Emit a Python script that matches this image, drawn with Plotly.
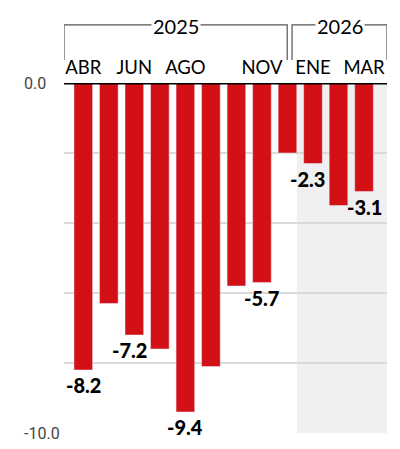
import plotly.graph_objects as go

months = ["ABR", "MAY", "JUN", "JUL", "AGO", "SEP", "OCT", "NOV", "DIC", "ENE", "FEB", "MAR"]
values = [-8.2, -6.3, -7.2, -7.6, -9.4, -8.1, -5.8, -5.7, -2.0, -2.3, -3.5, -3.1]
shown_months = ["ABR", "JUN", "AGO", "NOV", "ENE", "MAR"]
labeled_months = ["ABR", "JUN", "AGO", "NOV", "ENE", "MAR"]
years = ["2025", "2026"]
y_ticks = [0, -10]
y_tick_text = ["0.0", "-10.0"]

RED = "#d21016"
FONT = "Lato"
label_xshift = {"JUN": -5, "ENE": -5}

idx = {m: i for i, m in enumerate(months)}
x_lo, x_hi = -0.756, 11.9
bar_w = 0.73
plot_w = 323

fig = go.Figure()
fig.add_trace(go.Bar(x=list(range(len(months))), y=values, marker_color=RED,
                     width=bar_w, hoverinfo="skip"))

shapes = []
# shaded 2026 area
shapes.append(dict(type="rect", xref="x", yref="y", x0=idx["ENE"] - 1 + bar_w / 2, x1=x_hi,
                   y0=-10, y1=0, fillcolor="#f0f0f0", line_width=0, layer="below"))
# zero line
shapes.append(dict(type="line", xref="paper", yref="y", x0=0, x1=1, y0=0, y1=0,
                   line=dict(color="black", width=3), layer="above"))

annotations = []
# year brackets
br_top, br_bot = 1.166, 1.066
bx = [(x_lo, idx["DIC"] - 0.01), (idx["DIC"] + 0.18, x_hi)]
for yr, (a, b) in zip(years, bx):
    shapes.append(dict(type="path", xref="x", yref="paper",
                       path=f"M {a},{br_bot} L {a},{br_top} L {b},{br_top} L {b},{br_bot}",
                       line=dict(color="#555555", width=1.2)))
    annotations.append(dict(x=(a + b) / 2, y=br_top, xref="x", yref="paper", text=yr,
                            showarrow=False, bgcolor="white", borderpad=1, yshift=-1,
                            font=dict(family=FONT, size=20, color="black"),
                            xanchor="center", yanchor="middle"))

# value labels
for m in labeled_months:
    v = values[idx[m]]
    annotations.append(dict(x=idx[m], y=v, xref="x", yref="y", text=f"{v:.1f}",
                            showarrow=False, yanchor="top", yshift=-1,
                            xshift=label_xshift.get(m, 0),
                            font=dict(family=FONT, size=20, color="black", weight=900)))

# y tick labels (left aligned)
for t, tt in zip(y_ticks, y_tick_text):
    annotations.append(dict(x=-42 / plot_w, y=t, xref="paper", yref="y", text=tt,
                            showarrow=False, xanchor="left", yanchor="middle",
                            font=dict(family="Roboto", size=16, color="#444444")))

fig.update_layout(
    width=392, height=441,
    margin=dict(l=56, r=13, t=75, b=16, autoexpand=False),
    plot_bgcolor="white", paper_bgcolor="white",
    showlegend=False,
    bargap=0.27,
    shapes=shapes, annotations=annotations,
    xaxis=dict(range=[x_lo, x_hi], side="top", tickmode="array",
               tickvals=[idx[m] for m in shown_months], ticktext=shown_months,
               showgrid=False, zeroline=False, showline=False, ticks="",
               tickfont=dict(family=FONT, size=18.5, color="black"),
               ticklabelstandoff=4, automargin=False),
    yaxis=dict(range=[-10, 0], dtick=2, showgrid=True, gridcolor="#d9d9d9", gridwidth=1.5,
               zeroline=False, showticklabels=False, showline=False, ticks="",
               automargin=False),
)

fig.write_html("out.html")
